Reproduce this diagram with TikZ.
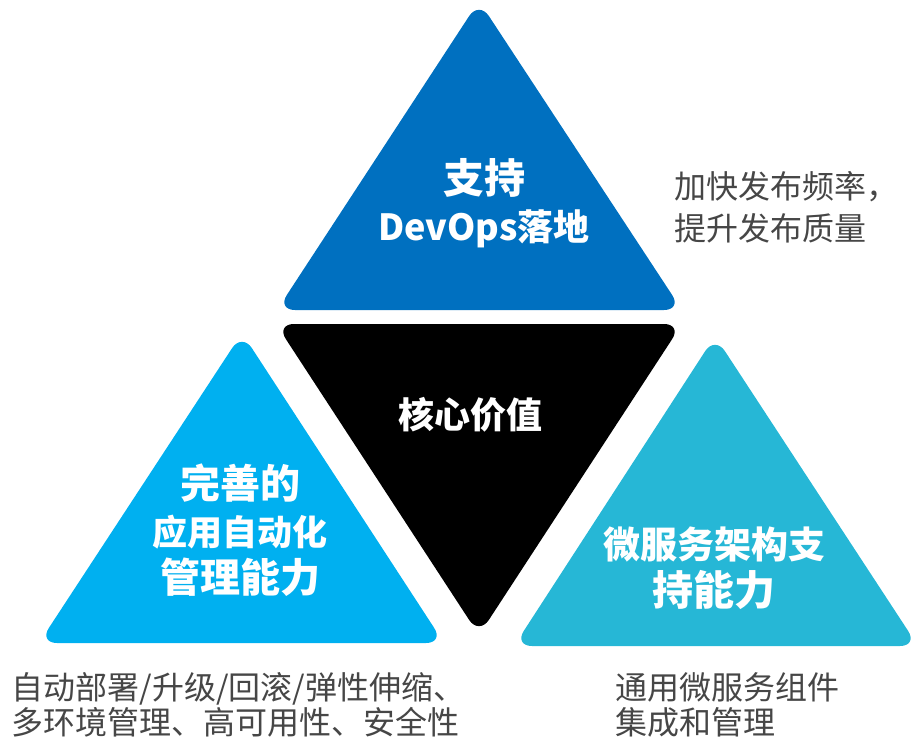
\documentclass[tikz,border=0pt]{standalone}
\usepackage{fontspec}
\setmainfont{Noto Sans CJK SC}
\usepackage{tikz}
\usepackage{xcolor}
\definecolor{devblue}{RGB}{0,112,192}
\definecolor{autoblue}{RGB}{0,176,240}
\definecolor{microcyan}{RGB}{38,183,214}
\definecolor{notegray}{RGB}{70,70,70}

\begin{document}
\begin{tikzpicture}[
    x=1pt,y=-1pt,
    tri/.style={rounded corners=18pt},
    head/.style={text=white,align=center,font=\bfseries\fontsize{40}{47}\selectfont},
    note/.style={text=notegray,anchor=west,align=left,font=\fontsize{32}{40}\selectfont}
]
\useasboundingbox (0,0) rectangle (911,741);
\fill[tri,devblue] (277,310) -- (479,1) -- (682,310) -- cycle;
\fill[tri,black] (276,324) -- (682,324) -- (479,635) -- cycle;
\fill[tri,autoblue] (39,643) -- (242,333) -- (444,643) -- cycle;
\fill[tri,microcyan] (514,646) -- (715,336) -- (918,646) -- cycle;
\node[head] (devops) at (484,203) {{\fontsize{41}{47}\selectfont 支持}\\{\fontsize{36}{47}\selectfont DevOps落地}};
\node[head,font=\bfseries\fontsize{36}{40}\selectfont] (core) at (470,415) {核心价值};
\node[head] (auto) at (240,530) {完善的\\{\fontsize{35}{47}\selectfont 应用自动化}\\管理能力};
\node[head] (micro) at (714,568) {{\fontsize{37}{49}\selectfont 微服务架构支}\\{\fontsize{41}{49}\selectfont 持能力}};
\node[note,font=\fontsize{32}{42}\selectfont] (devopsnote) at (671,207) {加快发布频率，\\提升发布质量};
\node[note,font=\fontsize{32}{35}\selectfont] (autonote) at (8,705) {自动部署/升级/回滚/弹性伸缩、\\多环境管理、高可用性、安全性};
\node[note,font=\fontsize{32}{35}\selectfont] (micronote) at (612,705) {通用微服务组件\\集成和管理};
\end{tikzpicture}
\end{document}
